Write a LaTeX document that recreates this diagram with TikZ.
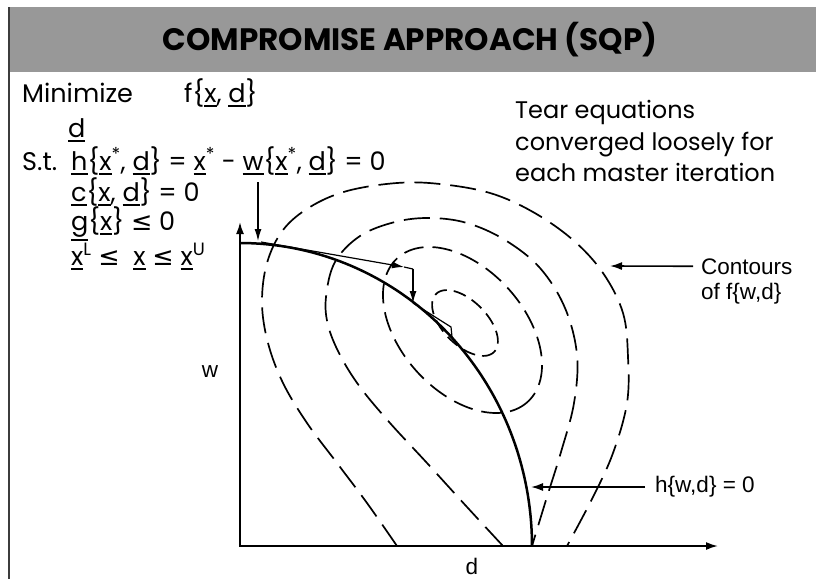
\documentclass[tikz,border=0pt]{standalone}
\usepackage{fontspec}
\setmainfont{Poppins}
\newfontfamily\figfont{Liberation Sans}
\newfontfamily\symfont{DejaVu Sans}
\usetikzlibrary{arrows.meta}
\definecolor{bandgray}{RGB}{152,152,152}
\definecolor{framegray}{RGB}{60,60,60}
\newcommand{\myul}[1]{\setbox0\hbox{#1}\leavevmode\rlap{\rule[\dimexpr-\dp0-4.5pt\relax]{\wd0}{2pt}}\box0\relax}
\newcommand{\lesym}{{\symfont ≤}}
\tikzset{
  lt/.style={anchor=base west, inner sep=0pt, font=\fontsize{25.5}{30}\selectfont},
  rt/.style={anchor=base west, inner sep=0pt, font=\fontsize{24}{30}\selectfont},
  fl/.style={inner sep=0pt, font=\figfont\fontsize{22.5}{26}\selectfont},
  titlestyle/.style={font=\fontsize{31}{36}\selectfont\bfseries},
  arr/.style={-{Latex[length=12pt,width=8pt]}},
  thinarr/.style={line width=1.2pt, -{Latex[length=12pt,width=7pt]}},
  thinline/.style={line width=1.2pt},
  axisline/.style={line width=1.8pt, {Latex[length=12pt,width=8pt]}-{Latex[length=12pt,width=8pt]}},
  hline/.style={line width=2.5pt},
  cont/.style={line width=1.7pt, dash pattern=on 26pt off 10pt},
  contsmall/.style={line width=1.7pt, dash pattern=on 20pt off 9pt},
  contin/.style={line width=1.7pt, dash pattern=on 13pt off 7pt},
}
\begin{document}
\begin{tikzpicture}[x=1pt,y=-1pt]
\useasboundingbox (0,0) rectangle (816,579);
\fill[white] (0,0) rectangle (816,579);
% title band
\fill[bandgray] (9,7) rectangle (816,72);
\draw[framegray, line width=1.5pt] (9,7) -- (9,579);
\node[titlestyle] (title) at (410,40) {COMPROMISE APPROACH (SQP)};
% left text
\node[lt] (minimize) at (22,102) {Minimize};
\node[lt] (fobj) at (184,102) {f\{\myul{x}, \myul{d}\}};
\node[lt] (dvar) at (68,137) {\myul{d}};
\node[lt] (st) at (22,170) {S.t.};
\node[lt] (hcon) at (71,170) {\myul{h}\{\myul{x}\textsuperscript{*}, \myul{d}\} = \myul{x}\textsuperscript{*} - \myul{w}\{\myul{x}\textsuperscript{*}, \myul{d}\} = 0};
\node[lt] (ccon) at (71,201) {\myul{c}\{\myul{x}, \myul{d}\} = 0};
\node[lt] (gcon) at (71,230) {\myul{g}\{\myul{x}\} \lesym{} 0};
\node[lt] (bounds) at (71,265) {\myul{x}\textsuperscript{L} \lesym\ \ \myul{x} \lesym{} \myul{x}\textsuperscript{U}};
% right text
\node[rt] (tear1) at (515,118) {Tear equations};
\node[rt] (tear2) at (515,150) {converged loosely for};
\node[rt] (tear3) at (515,181) {each master iteration};
% axes
\coordinate (O) at (240,546);
\coordinate (xend) at (718,546);
\coordinate (yend) at (240,222);
\draw[axisline] (yend) -- (O) -- (xend);
% contours
\draw[contin] plot[domain=0:360, samples=120] ({465 + 41*cos(45)*cos(\x) - 22*sin(45)*sin(\x)}, {323 + 41*sin(45)*cos(\x) + 22*cos(45)*sin(\x)}) -- cycle;
\draw[contsmall] plot[domain=0:360, samples=150] ({462.5 + 97*cos(47.9)*cos(\x) - 61.7*sin(47.9)*sin(\x)}, {330 + 97*sin(47.9)*cos(\x) + 61.7*cos(47.9)*sin(\x)}) -- cycle;
\draw[cont] plot[smooth, tension=0.6] coordinates {(503,546) (467,507) (427,463) (390,423) (360,387) (340,355) (328,325) (326,297) (335,262) (360,236) (395,222) (430,218) (467,223) (505,240) (540,268) (565,308) (577,355) (574,403) (561,452) (546,500) (532,546)};
\draw[cont] plot[smooth, tension=0.6] coordinates {(397,546) (367,503) (337,463) (307,423) (283,383) (268,343) (262,303) (267,263) (283,230) (310,207) (347,191) (397,183) (440,184) (490,193) (533,212) (573,240) (603,273) (623,313) (628,357) (627,403) (613,453) (593,497) (567,546)};
% h curve
\draw[hline] plot[domain=0:90, samples=90] ({240+292*cos(\x)}, {546-303*sin(\x)});
% iteration path
\coordinate (p0) at (258,182);
\coordinate (p1) at (258,241);
\coordinate (p2) at (261,242);
\coordinate (p3) at (404,267);
\coordinate (p4) at (413,269);
\coordinate (p5) at (413,303);
\coordinate (p6) at (451,327);
\coordinate (p7) at (452,337);
\draw[thinarr] (p0) -- (p1);
\draw[thinarr] (p2) -- (p3);
\draw[thinline] (p3) -- (p4);
\draw[thinarr] (p4) -- (p5);
\draw[thinline] (p5) -- (p6) -- (p7);
% figure labels
\node[fl] (wlab) at (210,372) {w};
\node[fl] (dlab) at (472,566) {d};
\node[fl, anchor=base west, inner xsep=8pt] (cont1) at (693,274) {Contours};
\node[fl, anchor=base west] (cont2) at (701,299) {of f\{w,d\}};
\coordinate (c4pt) at (610,266);
\draw[arr, line width=1.6pt] (cont1.west) -- (c4pt);
\node[fl, anchor=west, inner xsep=10pt] (hlab) at (645,487) {h\{w,d\} = 0};
\coordinate (hpt) at (531,487);
\draw[arr, line width=1.6pt] (hlab.west) -- (hpt);
\end{tikzpicture}
\end{document}
